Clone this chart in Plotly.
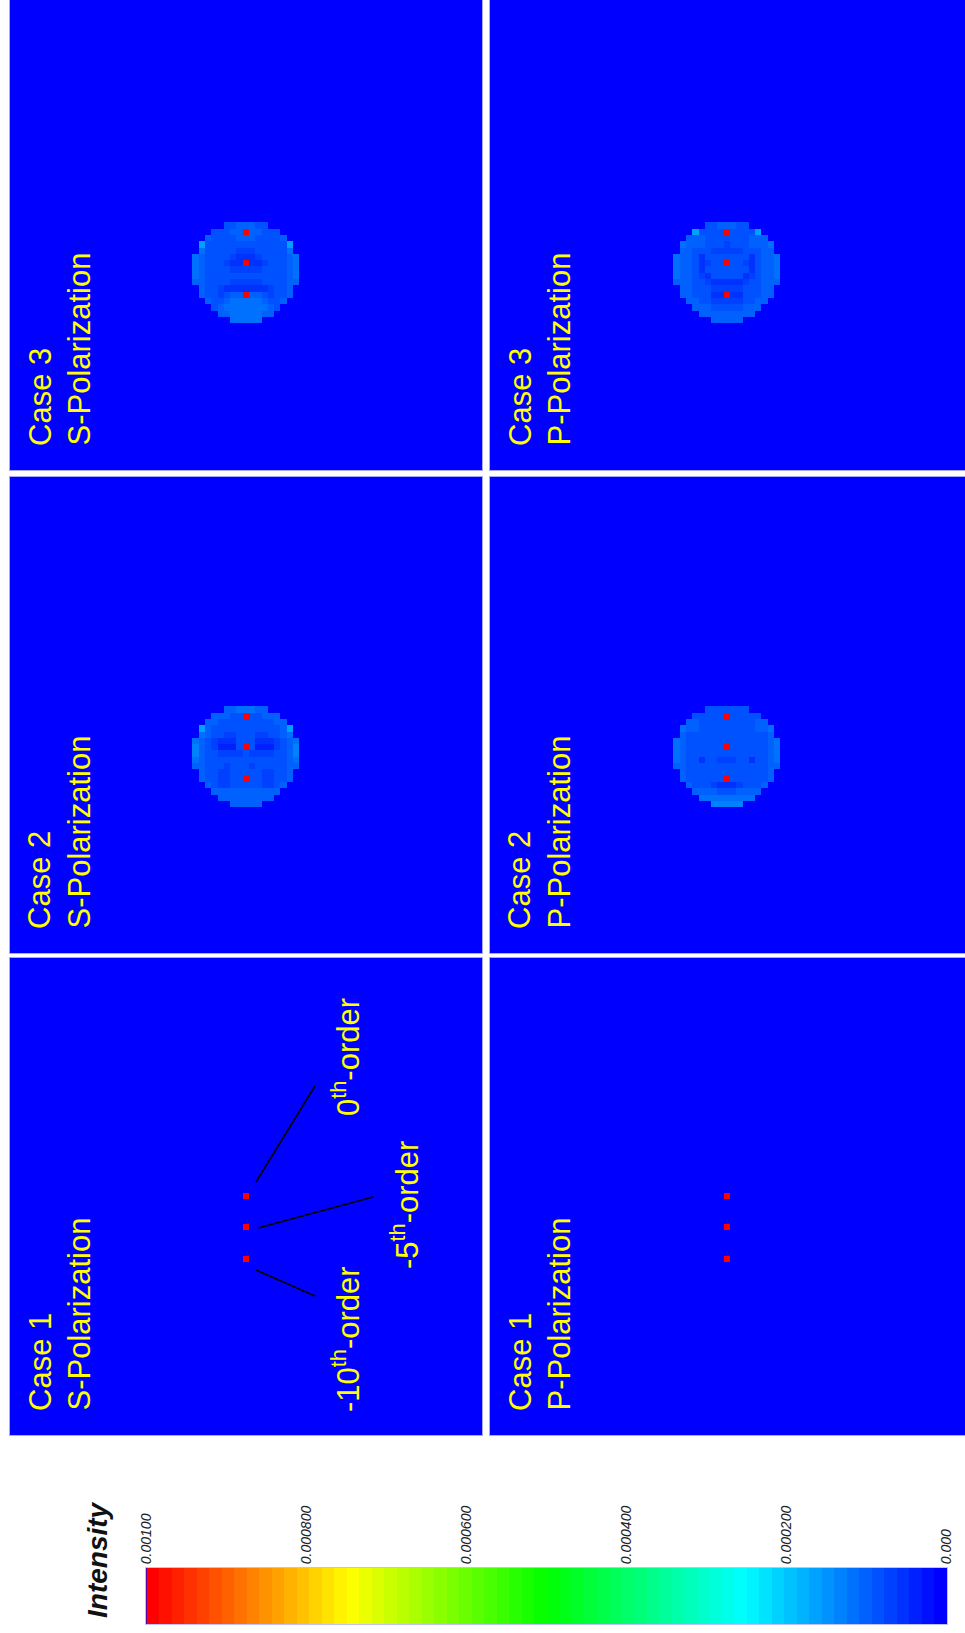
import plotly.graph_objects as go

W, H = 965, 1633

# ---------------- data ----------------
CASES = ["Case 1", "Case 2", "Case 3"]
POLARIZATIONS = ["S-Polarization", "P-Polarization"]
ORDERS_MARKED = [0, -5, -10]                 # diffraction orders (red spots)
ORDER_LABELS = ["0<sup>th</sup>-order", "-5<sup>th</sup>-order", "-10<sup>th</sup>-order"]

# intensity of the three red spots (saturated, above colour-scale max)
DOT_INTENSITY = [0.00118, 0.00114, 0.00106]

# character -> intensity lookup for the read-off maps
LEVEL_CHARS = ".123456789R"
LEVEL_VALUES = [0.0, 0.000025, 0.000040, 0.000055, 0.000070, 0.000085,
                0.000100, 0.000115, 0.000135, 0.000165, 0.00112]

MAP_TOP_ORDER = 1      # order of first map row
MAP_LEFT_ORDER = -8    # order of first map column

S2_MAP = [
    ".....6677766.....",
    "...66655R55666...",
    "..6655555555566..",
    ".965555555555569.",
    ".765544555445567.",
    "76543335553334567",
    "86542225R52224568",
    "86554444544445568",
    "76555555555555567",
    "66555455545555566",
    ".655445555544556.",
    ".6554455R5544556.",
    "..6544555554456..",
    "...66666666666...",
    "....666666666....",
    "......66666......",
]
S3_MAP = [
    ".....5566655.....",
    "...55566R66555...",
    "..6555566655556..",
    ".955555555555559.",
    ".755555444555557.",
    "76555543334555567",
    "76555433R33455567",
    "76555544444555567",
    "76555555555555567",
    "66555544444555566",
    ".655433333334556.",
    ".6554566R6654556.",
    "..6556777776556..",
    "...56777777765...",
    "....667777766....",
    "......77777......",
]
P2_MAP = [
    ".....5555555.....",
    "...55555R55555...",
    "..6655555555566..",
    ".766555555555667.",
    ".655555555555556.",
    "76555555555555567",
    "76555555R55555567",
    "76555555555555567",
    "76553554445535567",
    "66555555555555566",
    ".655555555555556.",
    ".6555555R5555556.",
    "..6555433345556..",
    "...66665556666...",
    "....777777777....",
    "......88888......",
]
P3_MAP = [
    ".....5566655.....",
    "...95555R55559...",
    "..6665555555666..",
    ".766655545556667.",
    ".665554444455566.",
    "76653555555535667",
    "76653455R55435667",
    "76653555555535667",
    "76654355555345667",
    "66655433333455666",
    ".665554444455566.",
    ".6655533R3355566.",
    "..6655444445566..",
    "...66655555666...",
    "....666666666....",
    "......66666......",
]

Z_MIN, Z_MAX = 0.0, 0.001
CB_TICKVALS = [0.001, 0.0008, 0.0006, 0.0004, 0.0002, 0.0]
CB_TICKTEXT = ["0.00100", "0.000800", "0.000600", "0.000400", "0.000200", "0.000"]
N_BANDS = 64

# ---------------- colour scale ----------------
ANCHORS = [(0.0, (0, 0, 255)), (0.25, (0, 255, 255)), (0.5, (0, 255, 0)),
           (0.75, (255, 255, 0)), (1.0, (255, 0, 0))]


def rainbow(f):
    for (f0, c0), (f1, c1) in zip(ANCHORS[:-1], ANCHORS[1:]):
        if f <= f1:
            t = (f - f0) / (f1 - f0)
            return "#%02x%02x%02x" % tuple(round(a + (b - a) * t) for a, b in zip(c0, c1))
    return "#ff0000"


CS = []
for k in range(N_BANDS):
    col = rainbow(k / (N_BANDS - 1))
    CS.append([k / N_BANDS, col])
    CS.append([(k + 1) / N_BANDS, col])

# ---------------- geometry (pixels) ----------------
CELL = 6.3
COLS = {"S": (10, 482, 246), "P": (490, 965, 727)}            # x0, x1, centre of order 0
ROWS = {1: (958, 1435, 1196), 2: (477, 953, 716), 3: (0, 470, 232)}  # y0, y1, centre of order 0

NG = 40
ORDERS = list(range(-NG, NG + 1))


def panel_z(map_rows=None, dots=None):
    z = [[0.0] * len(ORDERS) for _ in ORDERS]
    if map_rows:
        for ri, row in enumerate(map_rows):
            oy = MAP_TOP_ORDER - ri
            for ci, ch in enumerate(row):
                ox = MAP_LEFT_ORDER + ci
                z[oy + NG][ox + NG] = LEVEL_VALUES[LEVEL_CHARS.index(ch)]
    if dots:
        for o, v in zip(ORDERS_MARKED, dots):
            z[o + NG][NG] = v
    return z


PANELS = [
    ("S", 1, panel_z(None, DOT_INTENSITY)),
    ("P", 1, panel_z(None, DOT_INTENSITY)),
    ("S", 2, panel_z(S2_MAP)),
    ("P", 2, panel_z(P2_MAP)),
    ("S", 3, panel_z(S3_MAP)),
    ("P", 3, panel_z(P3_MAP)),
]

fig = go.Figure()
layout = dict(width=W, height=H, autosize=False, margin=dict(l=0, r=0, t=0, b=0, pad=0),
              paper_bgcolor="white", plot_bgcolor="#0000ff", showlegend=False)

FONT = "Liberation Sans, Arial, sans-serif"
annotations = []
shapes = []


def px(x):
    return x / W


def py(y):
    return 1 - y / H


axis_common = dict(showgrid=False, zeroline=False, showticklabels=False, ticks="",
                   showline=True, linecolor="#a8a8ff", linewidth=1, mirror=True,
                   fixedrange=True, automargin=False)

for i, (pol, case, z) in enumerate(PANELS, start=1):
    x0, x1, cx = COLS[pol]
    y0, y1, cy = ROWS[case]
    xa = "xaxis" if i == 1 else "xaxis%d" % i
    ya = "yaxis" if i == 1 else "yaxis%d" % i
    layout[xa] = dict(axis_common, domain=[px(x0), px(x1)],
                      range=[(x0 - cx) / CELL, (x1 - cx) / CELL], anchor="y%d" % i if i > 1 else "y")
    layout[ya] = dict(axis_common, domain=[py(y1), py(y0)],
                      range=[-(y1 - cy) / CELL, (cy - y0) / CELL], anchor="x%d" % i if i > 1 else "x")
    fig.add_trace(go.Heatmap(x=ORDERS, y=ORDERS, z=z, colorscale=CS, zmin=Z_MIN, zmax=Z_MAX,
                             showscale=False, hoverinfo="skip",
                             xaxis="x%d" % i if i > 1 else "x",
                             yaxis="y%d" % i if i > 1 else "y"))
    # panel titles
    pol_text = POLARIZATIONS[0] if pol == "S" else POLARIZATIONS[1]
    for text, dx in ((CASES[case - 1], 30), (pol_text, 69)):
        annotations.append(dict(x=px(x0 + dx), y=py(y1 - 22), xref="paper", yref="paper",
                                text=text, showarrow=False, textangle=-90,
                                xanchor="center", yanchor="bottom",
                                font=dict(family=FONT, size=31, color="#ffff00")))

# order labels and leader lines in Case 1 / S panel
LABEL_POS = [(346, 1057), (405, 1205), (346, 1339)]
LEADERS = [((315, 1086), (256, 1182)), ((373, 1197), (258, 1228)), ((256, 1270), (315, 1296))]
for text, (lx, ly) in zip(ORDER_LABELS, LABEL_POS):
    annotations.append(dict(x=px(lx), y=py(ly), xref="paper", yref="paper", text=text,
                            showarrow=False, textangle=-90, xanchor="center", yanchor="middle",
                            font=dict(family=FONT, size=31, color="#ffff00")))
for (ax0, ay0), (ax1, ay1) in LEADERS:
    shapes.append(dict(type="line", xref="paper", yref="paper",
                       x0=px(ax0), y0=py(ay0), x1=px(ax1), y1=py(ay1),
                       line=dict(color="black", width=1.6)))

# colour bar as its own heat strip
cb_x = [(k + 0.5) / N_BANDS * (Z_MAX - Z_MIN) + Z_MIN for k in range(N_BANDS)]
fig.add_trace(go.Heatmap(x=cb_x, y=[0], z=[cb_x], colorscale=CS, zmin=Z_MIN, zmax=Z_MAX,
                         showscale=False, hoverinfo="skip", xaxis="x7", yaxis="y7"))
eps = 0.0000008
layout["xaxis7"] = dict(domain=[px(146), px(947)], range=[Z_MAX + eps, Z_MIN - eps],
                        anchor="y7", side="top", tickvals=CB_TICKVALS, ticktext=CB_TICKTEXT,
                        tickangle=-90, ticks="", showgrid=False, zeroline=False,
                        showline=True, linecolor="#c0c0ff", linewidth=1, mirror=True,
                        tickfont=dict(family=FONT, size=14, color="#222222", style="italic"),
                        fixedrange=True, automargin=False)
layout["yaxis7"] = dict(domain=[py(1624), py(1568)], range=[-0.5, 0.5], anchor="x7",
                        showticklabels=False, ticks="", showgrid=False, zeroline=False,
                        showline=True, linecolor="#c0c0ff", linewidth=1, mirror=True,
                        fixedrange=True, automargin=False)
annotations.append(dict(x=px(97), y=py(1560), xref="paper", yref="paper", text="<b><i>Intensity</i></b>",
                        showarrow=False, textangle=-90, xanchor="center", yanchor="middle",
                        font=dict(family=FONT, size=28, color="#111111")))

layout["annotations"] = annotations
layout["shapes"] = shapes
fig.update_layout(**layout)

POST = (
    "var st=document.createElement('style');"
    "st.innerHTML='html,body{margin:0 !important;padding:0 !important;overflow:hidden !important;}';"
    "document.head.appendChild(st);"
    "var gd=document.getElementById('{plot_id}');"
    "gd.style.position='absolute';gd.style.left='0px';gd.style.top='0px';"
    "gd.style.width='%dpx';gd.style.height='%dpx';"
    "Plotly.relayout(gd,{width:%d,height:%d});" % (W, H, W, H)
)
fig.write_html("out.html", config={"displayModeBar": False, "responsive": False}, post_script=POST)
